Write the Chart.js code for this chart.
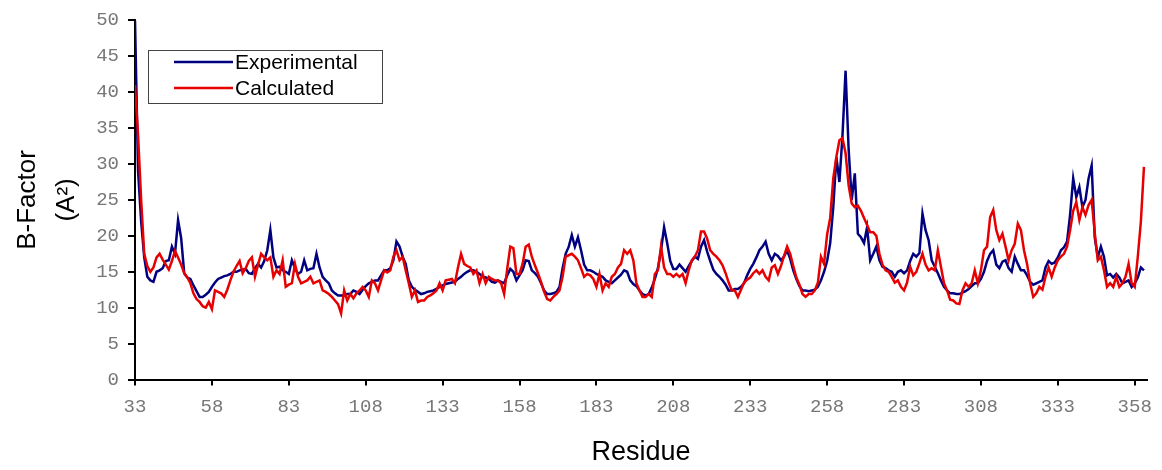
<!DOCTYPE html>
<html>
<head>
<meta charset="utf-8">
<script src="https://cdn.jsdelivr.net/npm/chart.js@4.4.1/dist/chart.umd.min.js"></script>
<style>
  html, body { margin: 0; padding: 0; background: #fff; }
  #wrap { width: 1162px; height: 470px; }
</style>
</head>
<body>
<div id="wrap"><canvas id="chart" width="1162" height="470"></canvas></div>
<script>
// Residue numbers run from 33 to 361, one value per residue
const firstResidue = 33;
const xTicks = [33, 58, 83, 108, 133, 158, 183, 208, 233, 258, 283, 308, 333, 358];

const experimental = [
    50, 29, 22, 17, 14.3, 13.8, 13.6, 15, 15.2, 15.5,
    16.5, 16.6, 18.5, 17.5, 22.2, 19.7, 14.8, 14.2, 14, 13.1,
    12.3, 11.5, 11.5, 11.8, 12.2, 12.9, 13.5, 14, 14.2, 14.4,
    14.5, 14.7, 15, 15, 15.2, 15.3, 15.4, 14.8, 14.7, 15.5,
    16.1, 15.6, 16.5, 18, 20.8, 17, 15.6, 15.7, 15.2, 15,
    14.7, 16.6, 15.5, 14.7, 15, 16.6, 15.2, 15.4, 15.5, 17.5,
    15.6, 14.3, 13.8, 13.4, 12.4, 12, 11.7, 11.7, 11.7, 11.9,
    11.9, 12.4, 12.2, 11.9, 12.5, 13, 13.4, 13.6, 13.8, 13.8,
    14.5, 15.2, 15.2, 15.5, 16.6, 19.2, 18.5, 17.1, 16.1, 13.8,
    12.9, 12.5, 12.2, 11.9, 12, 12.2, 12.3, 12.4, 12.6, 12.9,
    13.1, 13.3, 13.4, 13.5, 13.6, 14, 14.3, 14.7, 15, 15.2,
    15.2, 15, 14.7, 14.3, 14.2, 14, 13.6, 13.5, 13.8, 13.6,
    13.4, 14.5, 15.4, 15, 13.8, 14.5, 15.2, 16.6, 16.5, 15.2,
    14.8, 14.3, 13.4, 12.4, 11.9, 11.9, 12, 12.2, 12.9, 15.5,
    17.5, 18.5, 20.1, 18.5, 19.8, 18, 16, 15.2, 15.2, 15,
    14.7, 14.5, 14.3, 13.8, 13.6, 13.4, 13.8, 14.2, 14.6, 15.2,
    15, 13.8, 13.3, 13, 12.4, 11.9, 11.7, 11.9, 12.8, 14,
    15.5, 18, 21.2, 19, 16.5, 15.4, 15.4, 16, 15.5, 15,
    15.8, 16.5, 17.1, 16.8, 18.5, 19.4, 17.8, 16.5, 15.3, 14.7,
    14.3, 13.8, 13.2, 12.4, 12.4, 12.6, 12.6, 12.9, 13.4, 14.5,
    15.4, 16.1, 17, 18, 18.5, 19.2, 17.5, 16.6, 17.5, 17.2,
    16.6, 17.1, 18, 16.8, 15.2, 14, 13, 12.4, 12.4, 12.3,
    12.4, 12.5, 12.9, 13.8, 15, 16.5, 19, 24, 31, 27.5,
    34, 43, 32, 25, 28.7, 20.3, 19.8, 19, 21.2, 16.6,
    17.5, 18.5, 16.6, 15.7, 15.5, 15.2, 15, 14.3, 15, 15.2,
    14.8, 15.2, 16.5, 17.5, 17.1, 17.6, 23.1, 20.8, 19.4, 16.6,
    15.7, 14.8, 13.8, 12.9, 12.4, 12, 12, 11.9, 11.9, 12.1,
    12.3, 12.6, 13, 13.4, 13.4, 14, 15, 16.5, 17.5, 18,
    16, 15.5, 16.4, 16.6, 15.5, 15, 17.1, 16.1, 15.2, 15.2,
    14.5, 13.6, 13.2, 13.4, 13.6, 13.8, 15.6, 16.5, 16.1, 16.3,
    17, 18, 18.4, 19.2, 23, 28, 25.4, 26.8, 24, 25,
    28, 29.8, 19.8, 17, 18.5, 17.1, 14.5, 14.7, 14.2, 14.7,
    14.2, 13.4, 13.6, 13.8, 12.9, 13.4, 14.2, 15.6, 15.2
];

const calculated = [
    41, 34, 25, 17.5, 15.8, 15, 15.6, 17, 17.5, 16.7,
    16, 15.3, 16.5, 17.9, 17, 16, 14.8, 14.2, 13.4, 12,
    11.2, 10.8, 10.2, 10, 10.8, 9.8, 12.4, 12.2, 12, 11.5,
    12.5, 13.8, 15, 15.8, 16.5, 14.8, 15.5, 16.5, 17, 14.3,
    16, 17.5, 17, 16.6, 17, 14.3, 15.2, 14.7, 16.6, 12.9,
    13.2, 13.4, 16.1, 14.3, 13.4, 13.6, 13.8, 14.3, 13.4, 13.6,
    13.8, 12.4, 12.2, 11.9, 11.5, 11, 10.5, 9.2, 12.4, 11,
    11.9, 11.3, 12, 12.4, 12.9, 12.4, 11.5, 13.8, 13.4, 12.4,
    13.8, 15.2, 14.9, 15.2, 17.1, 18, 16.6, 17.1, 15.2, 13.4,
    11.5, 12.4, 10.8, 11, 11, 11.5, 11.7, 12, 12.4, 13.4,
    12.4, 13.8, 13.9, 14, 13.4, 15.6, 17.5, 16.1, 15.8, 15.6,
    14.7, 15.2, 13.4, 14.7, 13.4, 14.3, 14, 13.8, 13.8, 13.4,
    11.9, 15.4, 18.5, 18.3, 14.7, 14.7, 16.1, 18.5, 18.8, 17.1,
    15.9, 14.8, 13.6, 12.2, 11.2, 11, 11.5, 11.9, 12.4, 14.3,
    17.1, 17.3, 17.5, 17.1, 16.6, 15.5, 14.3, 14.7, 14.5, 14,
    12.9, 14.7, 12.4, 13.4, 12.9, 14.3, 14.7, 15.6, 16.1, 18,
    17.5, 18, 16.6, 13.4, 12.4, 11.5, 11.5, 11.9, 11.5, 14.7,
    15.2, 18.5, 15.6, 14.7, 14.7, 14.3, 14.7, 14.3, 14.7, 13.4,
    15.2, 16.6, 17.1, 18, 20.6, 20.6, 19.6, 18, 17.5, 17.1,
    16.6, 15.9, 14.8, 13.5, 12.4, 12.4, 11.5, 12.5, 13.5, 13.9,
    14.2, 14.8, 15.2, 14.7, 15.2, 14.3, 13.8, 15.6, 15.9, 14.7,
    15.8, 17.2, 18.5, 17.5, 15.8, 14.2, 13.2, 11.9, 11.5, 11.9,
    11.9, 12.4, 13.5, 17.1, 16.1, 20.2, 22.5, 28, 31, 33.3,
    33.6, 31.5, 27, 24.5, 24, 24.2, 23.5, 22.5, 21.5, 20.5,
    20.5, 20, 17.5, 16, 15.2, 15, 14.3, 13.5, 13.8, 12.9,
    12.4, 13.5, 15.7, 14.5, 15, 16.2, 17.5, 16, 15.2, 15.5,
    15.2, 18, 15.7, 13.4, 12.4, 11.1, 11, 10.6, 10.5, 12.4,
    13.4, 12.9, 13.4, 15.2, 13.4, 15.2, 18, 18.5, 22.6, 23.6,
    20.8, 19.4, 20.3, 18.5, 16.6, 18, 18.9, 21.7, 20.8, 18,
    16.1, 13.4, 11.5, 12, 12.9, 12.5, 14.3, 15.6, 14.3, 15.6,
    16.6, 17.1, 17.5, 18.5, 20.8, 23.5, 24.7, 22.2, 24, 22.9,
    24.3, 25, 20.4, 16.6, 17.1, 15.2, 12.9, 13.4, 12.9, 14.3,
    12.9, 13.4, 14.3, 16.1, 13.4, 12.9, 17.1, 22, 29.6
];

const residues = experimental.map((v, i) => firstResidue + i);

const blue = '#000080';
const red = '#e60000';
const tickFont = { family: "'Liberation Mono', 'DejaVu Sans Mono', monospace", size: 19 };
const labelFont = "'Liberation Sans', Arial, sans-serif";

// legend box drawn inside the plot, like the original
const boxLegend = {
    id: 'boxLegend',
    afterDraw(chart) {
        const ctx = chart.ctx;
        ctx.save();
        ctx.strokeStyle = '#444';
        ctx.lineWidth = 1;
        ctx.strokeRect(148.5, 50.5, 234, 53);
        const rows = [
            { text: 'Experimental', color: blue, y: 62 },
            { text: 'Calculated', color: red, y: 88 }
        ];
        ctx.font = '21px ' + labelFont;
        ctx.textBaseline = 'middle';
        rows.forEach(r => {
            ctx.strokeStyle = r.color;
            ctx.lineWidth = 2.5;
            ctx.beginPath();
            ctx.moveTo(174, r.y);
            ctx.lineTo(233, r.y);
            ctx.stroke();
            ctx.fillStyle = '#000';
            ctx.fillText(r.text, 235, r.y + 1);
        });
        ctx.restore();
    }
};

new Chart(document.getElementById('chart').getContext('2d'), {
    type: 'line',
    data: {
        labels: residues,
        datasets: [
            {
                label: 'Experimental',
                data: residues.map((r, i) => ({ x: r, y: experimental[i] })),
                borderColor: blue,
                borderWidth: 2.5,
                pointRadius: 0,
                tension: 0,
                order: 2
            },
            {
                label: 'Calculated',
                data: residues.map((r, i) => ({ x: r, y: calculated[i] })),
                borderColor: red,
                borderWidth: 2.5,
                pointRadius: 0,
                tension: 0,
                order: 1
            }
        ]
    },
    options: {
        responsive: false,
        animation: false,
        layout: { padding: { top: 20, right: 14, bottom: 0, left: 0 } },
        plugins: {
            legend: { display: false },
            tooltip: { enabled: false }
        },
        scales: {
            x: {
                type: 'linear',
                min: 33,
                max: 362,
                afterBuildTicks: scale => { scale.ticks = xTicks.map(v => ({ value: v })); },
                afterFit: scale => { scale.height = 90.5; },
                grid: { drawOnChartArea: false, drawTicks: true, tickLength: 6, color: '#000', lineWidth: 2 },
                border: { display: true, color: '#000', width: 2 },
                ticks: { color: '#777', font: tickFont, padding: 10, maxRotation: 0, autoSkip: false },
                title: {
                    display: true,
                    text: 'Residue',
                    color: '#000',
                    font: { family: labelFont, size: 27 },
                    padding: { top: 0, bottom: 1 }
                }
            },
            y: {
                min: 0,
                max: 50,
                afterFit: scale => { scale.width = 135; },
                grid: { drawOnChartArea: false, drawTicks: true, tickLength: 7, color: '#000', lineWidth: 2 },
                border: { display: true, color: '#000', width: 2 },
                ticks: { stepSize: 5, color: '#777', font: tickFont, padding: 9 },
                title: {
                    display: true,
                    text: ['B-Factor', '(A\u00b2)'],
                    color: '#000',
                    font: { family: labelFont, size: 26, lineHeight: 1.5 },
                    padding: { top: 8.5, bottom: 0 }
                }
            }
        }
    },
    plugins: [boxLegend]
});
</script>
</body>
</html>
